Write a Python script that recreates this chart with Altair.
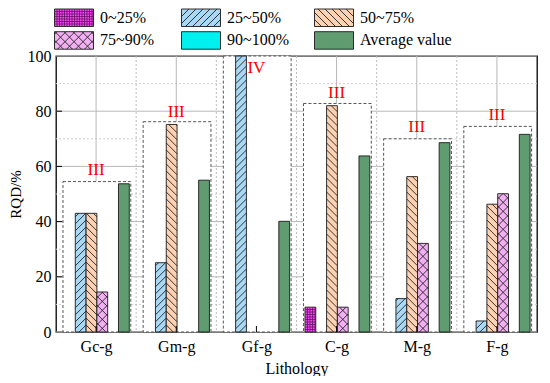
import json
import altair as alt
import pandas as pd

# ---------------- data ----------------
categories = ["Gc-g", "Gm-g", "Gf-g", "C-g", "M-g", "F-g"]
series = ["0~25%", "25~50%", "50~75%", "75~90%", "90~100%", "Average value"]
v_0_25 = [0, 0, 0, 9.0, 0, 0]
v_25_50 = [43.0, 25.1, 100.0, 0, 12.1, 4.0]
v_50_75 = [43.0, 75.2, 0, 82.0, 56.3, 46.3]
v_75_90 = [14.5, 0, 0, 9.0, 32.1, 50.1]
v_90_100 = [0, 0, 0, 0, 0, 0]
v_avg = [53.7, 55.0, 40.1, 63.8, 68.6, 71.6]
grade = ["III", "III", "IV", "III", "III", "III"]
grade_y = [58.7, 79.8, 95.8, 86.7, 74.3, 78.6]
box_top = [54.5, 76.2, 100.0, 82.8, 70.0, 74.5]
y_ticks = [0, 20, 40, 60, 80, 100]
y_minor = [10, 30, 50, 70, 90]

# ---------------- layout / style ----------------
W, H = 481, 276
NC = len(categories)
PX = W / NC          # pixels per x unit
PY = H / 100.0       # pixels per y unit
BW = 10.8 / PX       # bar slot width (data units)
SHIFT = 0.8 / PX     # small offset of bar groups
FONT = "Liberation Serif"
fills = ["#f04cf0", "#a8d8f4", "#fdd2b3", "#f2b0f2", "#00f0f0", "#5f9d71"]
patterns = ["grid", "fwd", "back", "cross", None, None]
pat_spacing = {"grid": 2.5, "fwd": 7.0, "back": 7.0, "cross": 9.0}
pat_color = {"grid": "#6a106a", "fwd": "#222222", "back": "#222222", "cross": "#222222"}
pat_width = {"grid": 0.8, "fwd": 0.9, "back": 0.9, "cross": 0.9}
LEG_COL_PX = [-1.5, 125.5, 258.5]
LEG_ROW_TOP_PX = [47.0, 24.3]
LEG_W, LEG_H, LEG_GAP = 39, 17.5, 6.5

label_expr = f"{json.dumps(categories)}[floor(datum.value)]"
x_scale = alt.Scale(domain=[0, NC], nice=False, zero=False)
y_scale = alt.Scale(domain=[0, 100], nice=False)
x_axis = alt.Axis(values=[i + 0.5 for i in range(NC)], labelExpr=label_expr, title="Lithology",
                  grid=False, ticks=False, domain=False, labelOverlap=False, labelFlush=False,
                  labelFont=FONT, labelFontSize=16, labelColor="black", labelPadding=6,
                  titleFont=FONT, titleFontSize=16, titleFontWeight="normal", titleColor="black",
                  titlePadding=6)
y_axis = alt.Axis(values=y_ticks, title="RQD/%", grid=False, ticks=False, domain=False,
                  labelOverlap=False, labelFlush=False,
                  labelFont=FONT, labelFontSize=16, labelColor="black", labelPadding=5,
                  titleFont=FONT, titleFontSize=15, titleFontWeight="normal", titleColor="black",
                  titlePadding=4)


def X(f):
    return alt.X(f"{f}:Q", scale=x_scale, axis=x_axis)


def Y(f):
    return alt.Y(f"{f}:Q", scale=y_scale, axis=y_axis)


color = alt.Color("series:N", scale=alt.Scale(domain=series, range=fills), legend=None)


def hatch_layers(base, kind):
    s = pat_spacing[kind]
    col = pat_color[kind]
    sw = pat_width[kind]
    b = base.transform_calculate(wpx=f"(datum.x1 - datum.x0) * {PX}",
                                 hpx=f"(datum.y1 - datum.y0) * {PY}")
    out = []
    kinds = {"cross": ["fwd", "back"], "grid": ["h", "v"]}.get(kind, [kind])
    for k in kinds:
        if k == "fwd":
            c = (b.transform_calculate(seq=f"sequence(1, ceil((datum.wpx + datum.hpx) / {s}))")
                 .transform_flatten(["seq"], as_=["k"])
                 .transform_calculate(c=f"-datum.wpx + datum.k * {s}")
                 .transform_calculate(xa="max(0, -datum.c)", xb="min(datum.wpx, datum.hpx - datum.c)")
                 .transform_filter("datum.xb - datum.xa > 0.3")
                 .transform_calculate(X1=f"datum.x0 + datum.xa / {PX}", X2=f"datum.x0 + datum.xb / {PX}",
                                      Y1=f"datum.y0 + (datum.xa + datum.c) / {PY}",
                                      Y2=f"datum.y0 + (datum.xb + datum.c) / {PY}"))
        elif k == "back":
            c = (b.transform_calculate(seq=f"sequence(1, ceil((datum.wpx + datum.hpx) / {s}))")
                 .transform_flatten(["seq"], as_=["k"])
                 .transform_calculate(c=f"datum.k * {s}")
                 .transform_calculate(xa="max(0, datum.c - datum.hpx)", xb="min(datum.wpx, datum.c)")
                 .transform_filter("datum.xb - datum.xa > 0.3")
                 .transform_calculate(X1=f"datum.x0 + datum.xa / {PX}", X2=f"datum.x0 + datum.xb / {PX}",
                                      Y1=f"datum.y0 + (datum.c - datum.xa) / {PY}",
                                      Y2=f"datum.y0 + (datum.c - datum.xb) / {PY}"))
        elif k == "h":
            c = (b.transform_calculate(seq=f"sequence(1, ceil(datum.hpx / {s}))")
                 .transform_flatten(["seq"], as_=["k"])
                 .transform_filter(f"datum.k * {s} < datum.hpx - 0.3")
                 .transform_calculate(X1="datum.x0", X2="datum.x1",
                                      Y1=f"datum.y0 + datum.k * {s} / {PY}",
                                      Y2=f"datum.y0 + datum.k * {s} / {PY}"))
        else:
            c = (b.transform_calculate(seq=f"sequence(1, ceil(datum.wpx / {s}))")
                 .transform_flatten(["seq"], as_=["k"])
                 .transform_filter(f"datum.k * {s} < datum.wpx - 0.3")
                 .transform_calculate(X1=f"datum.x0 + datum.k * {s} / {PX}",
                                      X2=f"datum.x0 + datum.k * {s} / {PX}",
                                      Y1="datum.y0", Y2="datum.y1"))
        out.append(c.mark_rule(color=col, strokeWidth=sw).encode(
            x=X("X1"), x2="X2", y=Y("Y1"), y2="Y2"))
    return out


# ---------------- tables ----------------
values_by_series = [v_0_25, v_25_50, v_50_75, v_75_90, v_90_100, v_avg]
rows = []
for si, (sname, vals) in enumerate(zip(series, values_by_series)):
    for ci, cat in enumerate(categories):
        rows.append({"cat": cat, "ci": ci, "series": sname, "si": si, "value": vals[ci]})
bars_df = pd.DataFrame(rows)
cat_df = pd.DataFrame({"cat": categories, "ci": list(range(NC)), "top": box_top,
                       "grade": grade, "gy": grade_y})
leg_df = pd.DataFrame({"series": series, "si": list(range(len(series)))})

# ---------------- layers ----------------
hminor = alt.Chart(pd.DataFrame({"v": y_minor})).mark_rule(
    color="#cfcfcf", strokeWidth=1, strokeDash=[2, 2]).encode(y=Y("v"))
hmajor = alt.Chart(pd.DataFrame({"v": y_ticks})).mark_rule(
    color="#b8b8b8", strokeWidth=1).encode(y=Y("v"))
vminor = alt.Chart(cat_df).transform_filter("datum.ci > 0").transform_calculate(
    b="datum.ci").mark_rule(color="#bdbdbd", strokeWidth=1, strokeDash=[2, 2]).encode(x=X("b"))
vmajor = alt.Chart(cat_df).transform_calculate(c="datum.ci + 0.5").mark_rule(
    color="#b8b8b8", strokeWidth=1).encode(x=X("c"))

boxes = alt.Chart(cat_df).transform_calculate(
    x0=f"datum.ci + 0.5 + {SHIFT} - 3 * {BW} - {1.5 / PX}",
    x1=f"datum.ci + 0.5 + {SHIFT} + 3 * {BW} + {1.5 / PX}",
    y0="0", y1="datum.top").mark_rect(
    fill="white", stroke="#555555", strokeWidth=1, strokeDash=[3, 2]).encode(
    x=X("x0"), x2="x1", y=Y("y0"), y2="y1")

bar_base = alt.Chart(bars_df).transform_filter("datum.value > 0").transform_calculate(
    x0=f"datum.ci + 0.5 + {SHIFT} + (datum.si - 3) * {BW}",
    x1=f"datum.ci + 0.5 + {SHIFT} + (datum.si - 2) * {BW}",
    y0="0", y1="datum.value")
bars = bar_base.mark_rect(stroke="#1a1a1a", strokeWidth=0.9).encode(
    x=X("x0"), x2="x1", y=Y("y0"), y2="y1", color=color)

bar_hatch = []
for si, pat in enumerate(patterns):
    if pat:
        bar_hatch += hatch_layers(bar_base.transform_filter(f"datum.si == {si}"), pat)

lticks = alt.Chart(pd.DataFrame({"v": y_ticks[1:-1]})).mark_rule(
    color="black", strokeWidth=1).encode(y=Y("v"), x=alt.value(0), x2=alt.value(6))
bticks = alt.Chart(cat_df).transform_calculate(c="datum.ci + 0.5").mark_rule(
    color="black", strokeWidth=1).encode(x=X("c"), y=alt.value(H), y2=alt.value(H - 6))

grades = alt.Chart(cat_df).transform_calculate(c="datum.ci + 0.5").mark_text(
    font=FONT, fontSize=17, color="#ff0000", baseline="middle", align="center").encode(
    x=X("c"), y=Y("gy"), text="grade:N")

leg_base = alt.Chart(leg_df).transform_calculate(
    col="datum.si % 3", row="floor(datum.si / 3)").transform_calculate(
    x0=f"{json.dumps(LEG_COL_PX)}[datum.col] / {PX}",
    y1=f"100 + {json.dumps(LEG_ROW_TOP_PX)}[datum.row] / {PY}").transform_calculate(
    x1=f"datum.x0 + {LEG_W / PX}", y0=f"datum.y1 - {LEG_H / PY}").transform_calculate(
    tx=f"datum.x1 + {LEG_GAP / PX}", ty="(datum.y0 + datum.y1) / 2")
leg_sw = leg_base.mark_rect(stroke="#1a1a1a", strokeWidth=0.9).encode(
    x=X("x0"), x2="x1", y=Y("y0"), y2="y1", color=color)
leg_hatch = []
for si, pat in enumerate(patterns):
    if pat:
        leg_hatch += hatch_layers(leg_base.transform_filter(f"datum.si == {si}"), pat)
leg_txt = leg_base.mark_text(align="left", baseline="middle", font=FONT, fontSize=16,
                             color="black").encode(x=X("tx"), y=Y("ty"), text="series:N")

chart = alt.layer(
    hminor, hmajor, vminor, vmajor, boxes, bars, *bar_hatch, lticks, bticks, grades,
    leg_sw, *leg_hatch, leg_txt
).properties(width=W, height=H, padding=0).configure_view(
    stroke="black", strokeWidth=1.3
).configure_axis(
    labelFont=FONT, labelFontSize=16, labelColor="black",
    titleFont=FONT, titleFontWeight="normal", titleColor="black"
).configure_text(font=FONT)

chart.save("out.html", embed_options={"renderer": "svg", "actions": False})
